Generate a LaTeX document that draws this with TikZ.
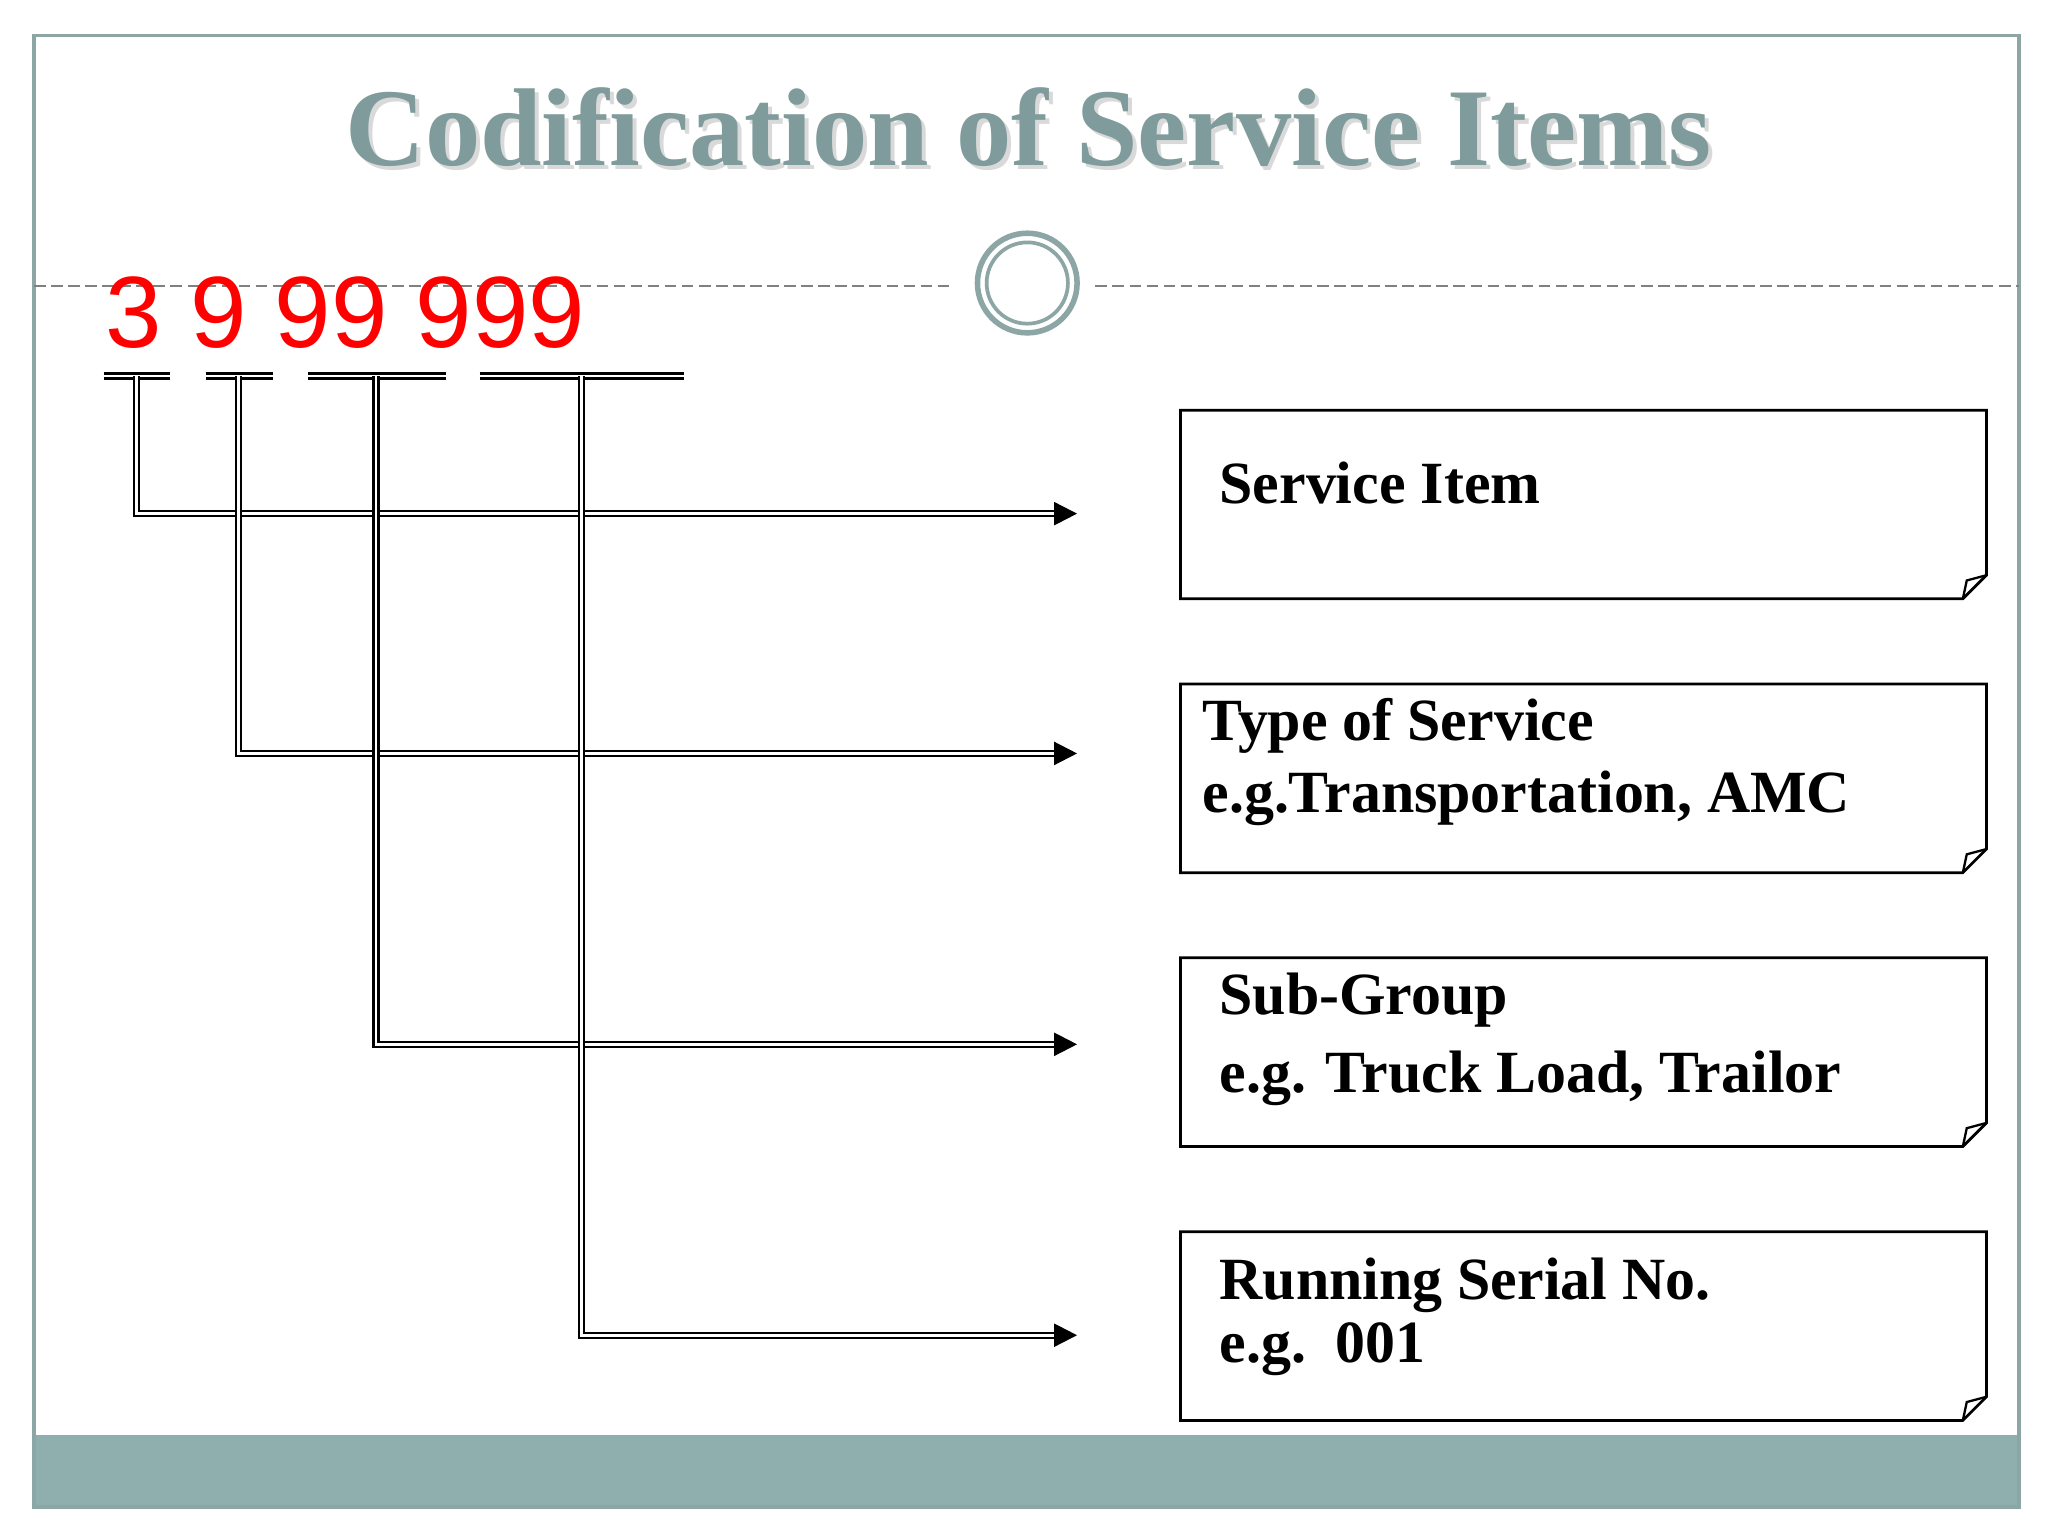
\documentclass[tikz,border=0pt]{standalone}
\usepackage{fontspec}
\setmainfont{Liberation Serif}
\newfontfamily\sansf{Liberation Sans}
\usetikzlibrary{arrows.meta}
\definecolor{teal1}{HTML}{8FAEAE}
\definecolor{titlec}{HTML}{7F9B9B}
\tikzset{
  dbl/.style={double, double distance=0.6pt, line width=0.5pt},
  tip/.style={-{Triangle[length=5pt,width=5pt]}, line width=0.5pt},
  boxc/.style={draw, line width=0.6pt},
  lbl/.style={anchor=base west, inner sep=0, font=\bfseries\fontsize{13}{15.5}\selectfont, align=left}
}
\begin{document}
\begin{tikzpicture}[x=0.01cm,y=-0.01cm]
\useasboundingbox (0,0) rectangle (1563,1172);
\fill[white] (0,0) rectangle (1563,1172);
\fill[teal1] (26,1095) rectangle (1541,1150);
\draw[teal1!80!gray, line width=0.8pt] (26,27) rectangle (1541,1150);
% title
\node[font=\bfseries\fontsize{24}{30}\selectfont, text=gray!30] (tsh) at (788,100) {Codification of Service Items};
\node[font=\bfseries\fontsize{24}{30}\selectfont, text=titlec] (title) at (785,97) {Codification of Service Items};
% dashed line and circle
\node[circle, draw=teal1!80!gray, line width=1.2pt, inner sep=0, minimum size=0.76cm] (circ) at (784,216) {};
\node[circle, draw=teal1!80!gray, line width=0.8pt, inner sep=0, minimum size=0.62cm] (circi) at (784,216) {};
\coordinate (dl1) at (26,218); \coordinate (dl2) at (728,218);
\coordinate (dr1) at (836,218); \coordinate (dr2) at (1541,218);
\draw[gray, dash pattern=on 2.5pt off 1.2pt, line width=0.4pt] (dl1) -- (dl2) (dr1) -- (dr2);
% red code
\node[anchor=base west, text=red, font=\sansf\fontsize{22}{26}\selectfont, inner sep=0] (code) at (80,265) {3 9 99 999};
% underlines
\foreach \a/\b in {79/130,157/208,235/340,366/522}{
  \draw[dbl] (\a,287) -- (\b,287);
}
% boxes
\foreach \y/\n in {313/b1,522/b2,731/b3,940/b4}{
  \coordinate (\n) at (901,\y);
  \draw[boxc] (901,\y) -- (1516,\y) -- (1516,\y+126) -- (1498,\y+144) -- (901,\y+144) -- cycle;
  \draw[line width=0.5pt] (1498,\y+144) -- (1501,\y+130) -- (1516,\y+126);
}
\node[lbl] (t1) at (930,384) {Service Item};
\node[lbl] (t2) at (917,620) {Type of Service\\e.g.Transportation, AMC};
\node[lbl, font=\bfseries\fontsize{13}{17}\selectfont] (t3) at (930,834) {Sub-Group\\e.g. Truck Load, Trailor};
\node[lbl, font=\bfseries\fontsize{13}{13.7}\selectfont] (t4) at (930,1040) {Running Serial No.\\e.g.\ \ 001};
% connectors
\foreach \x/\y/\n in {104/392/1,182/575/2,287/797/3,444/1019/4}{
  \coordinate (s\n) at (\x,287);
  \coordinate (c\n) at (\x,\y);
  \coordinate (e\n) at (808,\y);
  \coordinate (a\n) at (822,\y);
  \draw[dbl] (s\n) -- (c\n) -- (e\n);
  \draw[tip] (e\n) -- (a\n);
}
\end{tikzpicture}
\end{document}
